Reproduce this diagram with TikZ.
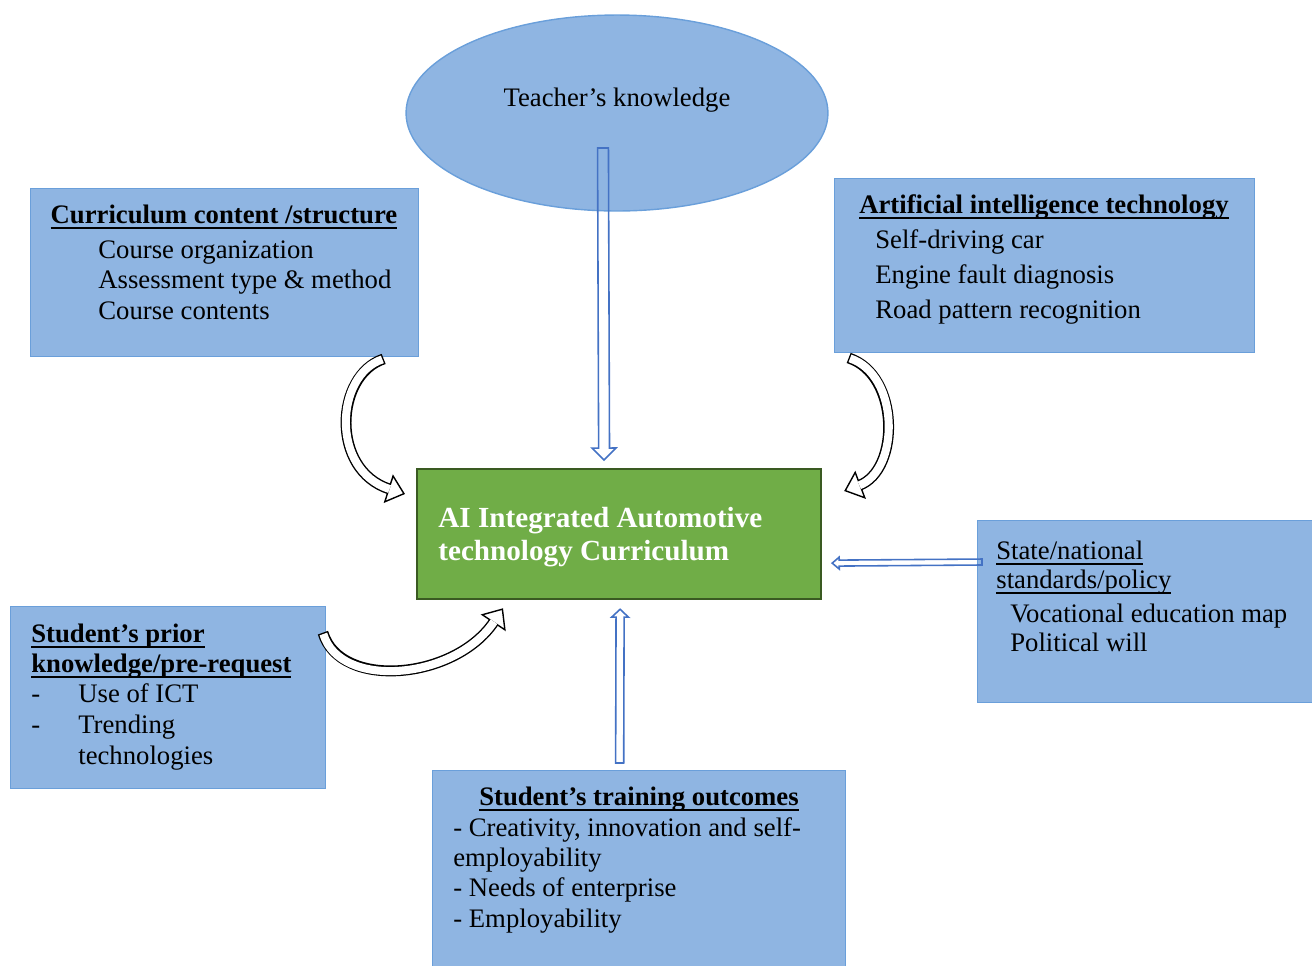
\documentclass[tikz,border=0pt]{standalone}
\usepackage{fontspec}
\setmainfont{Liberation Serif}
\usetikzlibrary{positioning, shapes.geometric, calc, arrows.meta}
\definecolor{boxblue}{HTML}{8FB5E2}
\definecolor{boxedge}{HTML}{6A9FDA}
\definecolor{arrowblue}{HTML}{4472C4}
\definecolor{leafgreen}{HTML}{70AD47}
\definecolor{darkgreen}{HTML}{3A5A22}

% underline at a fixed depth, crossing the descenders
\newcommand{\wordul}[1]{\setbox0\hbox{#1}\rlap{\rule[-3.3pt]{\wd0}{1pt}}\box0}
% white curved band with a black outline and a filled head
\newcommand{\bandarrow}[5]{%
  \draw[#1, line width=#2+1.6pt, shorten <=-0.8pt, shorten >=#3-0.8pt] #5;
  \draw[#1, line width=0.8pt, -{Triangle[fill=white, length=#3, width=#4]}] #5;
  \draw[white, line width=#2, shorten >=#3-0.8pt] #5;
}
% straight block arrow, outline only: tail, tip, half shaft, head length, half head
\newcommand{\hollowarrow}[5]{%
  \coordinate (hb) at ($(#2)!#4!(#1)$);
  \draw[outlinearrow] ($(#1)!#3!90:(#2)$) -- ($(hb)!#3!90:(#2)$) -- ($(hb)!#5!90:(#2)$)
    -- (#2) -- ($(hb)!#5!-90:(#2)$) -- ($(hb)!#3!-90:(#2)$) -- ($(#1)!#3!-90:(#2)$) -- cycle;
}

\begin{document}
\begin{tikzpicture}[
    x=0.02cm, y=-0.02cm,
    font=\fontsize{15.2}{17.3}\selectfont,
    % Styles
    infobox/.style={
        rectangle,
        draw=boxedge,
        fill=boxblue,
        line width=0.8pt,
        anchor=north west,
        inner sep=0pt
    },
    corebox/.style={
        rectangle,
        draw=darkgreen,
        fill=leafgreen,
        line width=1.3pt,
        anchor=north west,
        inner sep=0pt,
        minimum width=8.08cm,
        minimum height=2.6cm
    },
    boxtitle/.style={
        font=\fontsize{15.2}{17.3}\selectfont\bfseries,
        anchor=base,
        inner sep=0pt
    },
    % base anchor sits on the last line
    boxtext/.style={
        anchor=base west,
        align=left,
        inner sep=0pt
    },
    outlinearrow/.style={
        draw=arrowblue,
        line width=0.9pt,
        line join=miter
    }
]
    \useasboundingbox (0,0) rectangle (1312,965);

    % ================= BOXES =================
    \node[ellipse, draw=boxedge, fill=boxblue, line width=0.8pt,
          minimum width=8.44cm, minimum height=3.92cm] (teacher) at (617,113) {};
    \node[anchor=base] (teachertext) at (617,106) {Teacher’s knowledge};

    \node[infobox, minimum width=7.76cm, minimum height=3.36cm] (curr) at (30,188) {};
    \node[infobox, minimum width=8.4cm, minimum height=3.48cm] (ai) at (834,178) {};
    \node[corebox] (core) at (416,468) {};
    \node[infobox, minimum width=6.9cm, minimum height=3.64cm] (policy) at (977,520) {};
    \node[infobox, minimum width=6.3cm, minimum height=3.64cm] (prior) at (10,606) {};
    \node[infobox, minimum width=8.26cm, minimum height=4.1cm] (outcome) at (432,770) {};

    % ================= TEXTS =================
    \node[boxtitle] (currtitle) at (224,223) {\wordul{Curriculum content /structure}};
    \node[boxtext] (currlist) at (98,319) {Course organization\\ Assessment type \& method\\ Course contents};

    \node[boxtitle] (aititle) at (1044,213) {\wordul{Artificial intelligence technology}};
    \node[boxtext, font=\fontsize{15.2}{19.8}\selectfont] (ailist) at (875,318)
        {Self-driving car\\ Engine fault diagnosis\\ Road pattern recognition};

    \node[boxtext, font=\fontsize{16.6}{18.7}\selectfont\bfseries, text=white] (coretext) at (438,560)
        {AI Integrated Automotive\\ technology Curriculum};

    \node[boxtext, font=\fontsize{15.2}{16.4}\selectfont] (policytitle) at (996,588)
        {\wordul{State/national}\\ \wordul{standards/policy}};
    \node[boxtext, font=\fontsize{15.2}{16.4}\selectfont] (policylist) at (1010,651)
        {Vocational education map\\ Political will};

    \node[boxtext, font=\fontsize{15.2}{17}\selectfont\bfseries] (priortitle) at (31,672)
        {\wordul{Student’s prior}\\ \wordul{knowledge/pre-request}};
    \node[boxtext, font=\fontsize{15.2}{17.6}\selectfont] (priordash) at (31,733) {-\\ -};
    \node[boxtext, font=\fontsize{15.2}{17.6}\selectfont] (priorlist) at (78,764)
        {Use of ICT\\ Trending\\ technologies};

    \node[boxtitle] (outtitle) at (639,805) {\wordul{Student’s training outcomes}};
    \node[boxtext, font=\fontsize{15.2}{17.2}\selectfont] (outlist) at (453,927)
        {- Creativity, innovation and self-\\ employability\\ - Needs of enterprise\\ - Employability};

    % ================= CONNECTIONS / ARROWS =================
    \coordinate (teachertail) at ($(teacher.center)+(-14,35)$);
    \coordinate (coretop) at ($(core.north)+(-15,-8)$);
    \hollowarrow{teachertail}{coretop}{3.1pt}{6.8pt}{6.8pt}

    \coordinate (policytail) at ($(policy.north west)+(5,42)$);
    \coordinate (coreright) at ($(core.east)+(10,29)$);
    \hollowarrow{policytail}{coreright}{1.7pt}{4pt}{3.4pt}

    \coordinate (outtail) at ($(outcome.north)+(-19.5,-7)$);
    \coordinate (corebottom) at ($(core.south)+(1,9)$);
    \hollowarrow{outtail}{corebottom}{2.3pt}{4.5pt}{4.8pt}

    % curved arrows
    \coordinate (currtail) at ($(curr.south east)+(-37,2)$);
    \coordinate (coreleft) at ($(core.north west)+(-11,26)$);
    \bandarrow{black}{4.6pt}{10pt}{17pt}{(currtail) .. controls (335,375) and (330,470) .. (coreleft)}

    \coordinate (aitail) at ($(ai.south west)+(16,5)$);
    \coordinate (coreupright) at ($(core.north east)+(22,23)$);
    \bandarrow{black}{4.6pt}{10pt}{17pt}{(aitail) .. controls (900,375) and (900,470) .. (coreupright)}

    \coordinate (priortail) at ($(prior.north east)+(-3,28)$);
    \coordinate (corelowleft) at ($(core.south west)+(87,8)$);
    \bandarrow{black}{4.6pt}{10pt}{17pt}{(priortail) .. controls (340,690) and (455,680) .. (corelowleft)}

\end{tikzpicture}
\end{document}
